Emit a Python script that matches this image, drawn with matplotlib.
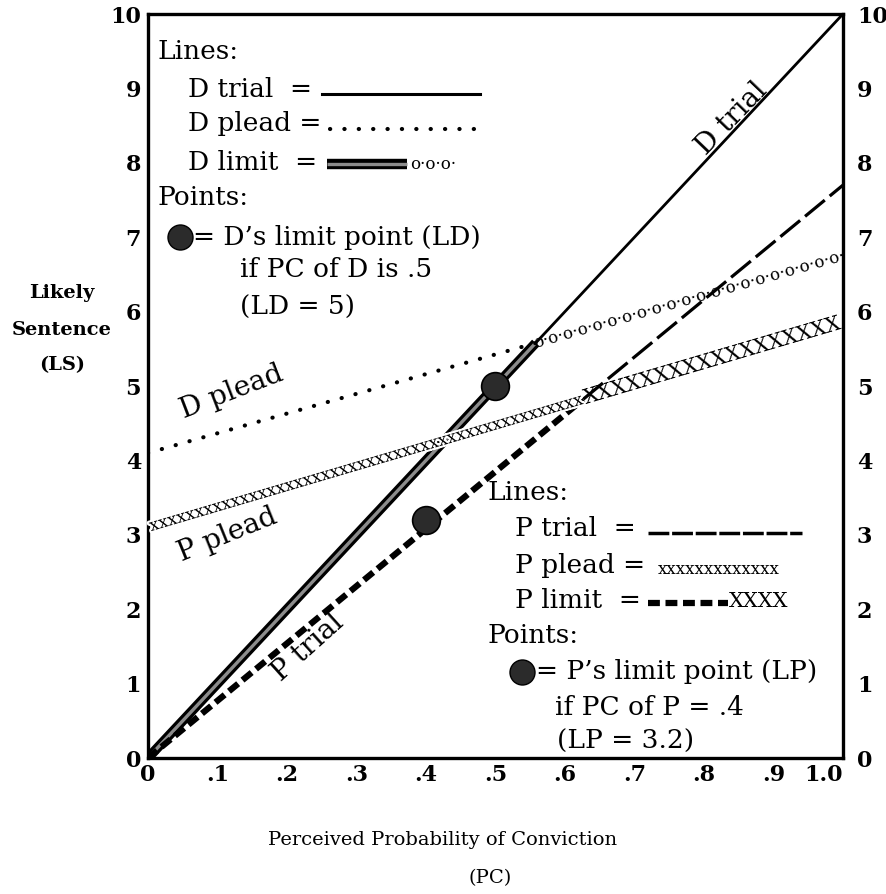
#!/usr/bin/env python3
import numpy as np
import matplotlib

matplotlib.use("Agg")
import matplotlib.pyplot as plt
import matplotlib.patheffects as pe

# perceived probability of conviction (x) at the two ends of every line
PC = [0.0, 1.0]
# likely sentence (y) at PC = 0 and PC = 1.0
D_TRIAL = [0.0, 10.0]
D_PLEAD = [4.1, 6.75]
P_TRIAL = [0.0, 7.7]
P_PLEAD = [3.1, 5.85]

LD_POINT = (0.5, 5.0)
LP_POINT = (0.4, 3.2)

X_TICKS = [0.0, 0.1, 0.2, 0.3, 0.4, 0.5, 0.6, 0.7, 0.8, 0.9, 1.0]
X_TICK_LABELS = ["0", ".1", ".2", ".3", ".4", ".5", ".6", ".7", ".8", ".9", "1.0"]
Y_TICKS = [0, 1, 2, 3, 4, 5, 6, 7, 8, 9, 10]

SERIF = ["DejaVu Serif"]
TEXT_SIZE = 19
LABEL_SIZE = 20
BAND_GREY = "#8c8c8c"
DOT_GREY = "#2b2b2b"


def value_at(series, x):
    return float(np.interp(x, PC, series))


def crossing(series_a, series_b):
    slope_a = (series_a[1] - series_a[0]) / (PC[1] - PC[0])
    slope_b = (series_b[1] - series_b[0]) / (PC[1] - PC[0])
    x = PC[0] + (series_b[0] - series_a[0]) / (slope_a - slope_b)
    return x, value_at(series_a, x)


def text_along(ax, x0, y0, x1, y1, unit, size, **kwargs):
    # fill a segment with a typed character, like the printed original
    renderer = ax.figure.canvas.get_renderer()
    probe = ax.text(0, 0, unit * 10, fontsize=size, family=SERIF)
    unit_width = probe.get_window_extent(renderer).width / 10
    probe.remove()
    p0, p1 = ax.transData.transform([(x0, y0), (x1, y1)])
    length = np.hypot(*(p1 - p0))
    angle = np.degrees(np.arctan2(p1[1] - p0[1], p1[0] - p0[0]))
    count = max(1, int(round(length / unit_width)))
    ax.text(
        (x0 + x1) / 2,
        (y0 + y1) / 2,
        unit * count,
        fontsize=size,
        family=SERIF,
        rotation=angle,
        rotation_mode="anchor",
        ha="center",
        va="center",
        **kwargs,
    )


def line_label(ax, x, y, text, angle):
    ax.text(x, y, text, fontsize=LABEL_SIZE, family=SERIF, rotation=angle,
            rotation_mode="anchor", ha="center", va="center")


def legend_text(ax, x, y, text, size=TEXT_SIZE):
    ax.text(x, y, text, transform=ax.transAxes, fontsize=size, family=SERIF,
            ha="left", va="center")


def style_ticks(labels):
    for label in labels:
        label.set_fontfamily(SERIF)
        label.set_fontsize(16)
        label.set_fontweight("bold")


def main():
    fig = plt.figure(figsize=(8.86, 8.94), dpi=100)
    ax = fig.add_axes([0.167, 0.1521, 0.7844, 0.8322])
    ax.set_xlim(0, 1.0)
    ax.set_ylim(0, 10)

    for spine in ax.spines.values():
        spine.set_linewidth(2.4)

    ax.set_xticks(X_TICKS)
    ax.set_xticklabels(X_TICK_LABELS)
    ax.set_yticks(Y_TICKS)
    ax.tick_params(length=0)
    ax.tick_params(axis="x", pad=4)
    ax.tick_params(axis="y", pad=5)
    style_ticks(ax.get_xticklabels() + ax.get_yticklabels())
    ax.get_xticklabels()[-1].set_horizontalalignment("right")

    right = ax.twinx()
    right.set_ylim(0, 10)
    right.set_yticks(Y_TICKS)
    right.tick_params(length=0, pad=10)
    for spine in right.spines.values():
        spine.set_visible(False)
    style_ticks(right.get_yticklabels())

    d_x, d_y = crossing(D_TRIAL, D_PLEAD)
    p_x, p_y = crossing(P_TRIAL, P_PLEAD)

    # D trial: thin solid above the crossing
    ax.plot([d_x, PC[1]], [d_y, D_TRIAL[1]], color="black", lw=2.0, zorder=3)
    # D limit: thick stippled band along D trial up to the crossing
    ax.plot(
        [PC[0], d_x], [D_TRIAL[0], d_y], color=BAND_GREY, lw=2.4,
        solid_capstyle="butt", zorder=3,
        path_effects=[pe.Stroke(linewidth=7, foreground="black"), pe.Normal()],
    )
    # D plead: dotted below the crossing, o.o.o above it
    ax.plot([PC[0], d_x], [D_PLEAD[0], d_y], color="black", lw=3.0,
            linestyle=(0, (0.05, 3.4)), dash_capstyle="round", zorder=3)
    text_along(ax, d_x, d_y, PC[1], D_PLEAD[1], "o·", 12, zorder=4)

    # P trial: long thin dashes above the crossing
    ax.plot([p_x, PC[1]], [p_y, P_TRIAL[1]], color="black", lw=2.3,
            linestyle=(0, (8, 2)), zorder=3)
    # P limit: heavy short dashes along P trial up to the crossing
    ax.plot([PC[0], p_x], [P_TRIAL[0], p_y], color="black", lw=4.5,
            linestyle=(0, (1.9, 0.9)), zorder=3)
    # P plead: lower-case x below the crossing, capital X above it
    white_edge = [pe.withStroke(linewidth=3, foreground="white")]
    text_along(ax, PC[0], P_PLEAD[0], p_x, p_y, "x", 12, zorder=4,
               path_effects=white_edge)
    text_along(ax, p_x, p_y, PC[1], P_PLEAD[1], "X", 15, zorder=4)

    for point in (LD_POINT, LP_POINT):
        ax.plot(point[0], point[1], marker="o", markersize=20, color=DOT_GREY,
                markeredgecolor="black", markeredgewidth=1.2, zorder=5)

    line_label(ax, 0.84, 8.6, "D trial", 46)
    line_label(ax, 0.12, 4.92, "D plead", 21)
    line_label(ax, 0.115, 3.0, "P plead", 22)
    line_label(ax, 0.23, 1.48, "P trial", 42)

    # upper-left key
    legend_text(ax, 0.014, 0.949, "Lines:")
    legend_text(ax, 0.058, 0.898, "D trial  =")
    ax.plot([0.250, 0.478], [0.892, 0.892], transform=ax.transAxes,
            color="black", lw=2.2, clip_on=False)
    legend_text(ax, 0.058, 0.853, "D plead =")
    ax.plot([0.262, 0.488], [0.846, 0.846], transform=ax.transAxes,
            color="black", lw=3.0, linestyle=(0, (0.05, 3.4)),
            dash_capstyle="round")
    legend_text(ax, 0.058, 0.800, "D limit  =")
    ax.plot([0.258, 0.373], [0.798, 0.798], transform=ax.transAxes,
            color=BAND_GREY, lw=2.4, solid_capstyle="butt",
            path_effects=[pe.Stroke(linewidth=7.5, foreground="black"), pe.Normal()])
    legend_text(ax, 0.377, 0.798, "o·o·o·", size=12)
    legend_text(ax, 0.014, 0.754, "Points:")
    ax.plot([0.046], [0.700], transform=ax.transAxes, marker="o", markersize=18,
            color=DOT_GREY, markeredgecolor="black")
    legend_text(ax, 0.065, 0.700, "= D\u2019s limit point (LD)")
    legend_text(ax, 0.132, 0.656, "if PC of D is .5")
    legend_text(ax, 0.132, 0.606, "(LD = 5)")

    # lower-right key
    legend_text(ax, 0.488, 0.357, "Lines:")
    legend_text(ax, 0.528, 0.309, "P trial  =")
    ax.plot([0.719, 0.941], [0.303, 0.303], transform=ax.transAxes,
            color="black", lw=2.5, linestyle=(0, (6, 0.8)))
    legend_text(ax, 0.528, 0.259, "P plead =")
    legend_text(ax, 0.734, 0.254, "xxxxxxxxxxxxx", size=12)
    legend_text(ax, 0.528, 0.212, "P limit  =")
    ax.plot([0.719, 0.835], [0.208, 0.208], transform=ax.transAxes,
            color="black", lw=4.5, linestyle=(0, (1.9, 0.9)))
    legend_text(ax, 0.836, 0.210, "XXXX", size=15)
    legend_text(ax, 0.488, 0.165, "Points:")
    ax.plot([0.538], [0.116], transform=ax.transAxes, marker="o", markersize=18,
            color=DOT_GREY, markeredgecolor="black")
    legend_text(ax, 0.558, 0.116, "= P\u2019s limit point (LP)")
    legend_text(ax, 0.586, 0.068, "if PC of P = .4")
    legend_text(ax, 0.588, 0.022, "(LP = 3.2)")

    for text, y in (("Likely", 293), ("Sentence", 330), ("(LS)", 365)):
        fig.text(62 / 886, 1 - y / 894, text, fontsize=14, family=SERIF,
                 fontweight="bold", ha="center", va="center")
    fig.text(443 / 886, 1 - 840 / 894, "Perceived Probability of Conviction",
             fontsize=14, family=SERIF, ha="center", va="center")
    fig.text(490 / 886, 1 - 878 / 894, "(PC)", fontsize=14, family=SERIF,
             ha="center", va="center")

    fig.savefig("out.png", dpi=100)
    plt.close(fig)
    return 0


if __name__ == "__main__":
    raise SystemExit(main())
